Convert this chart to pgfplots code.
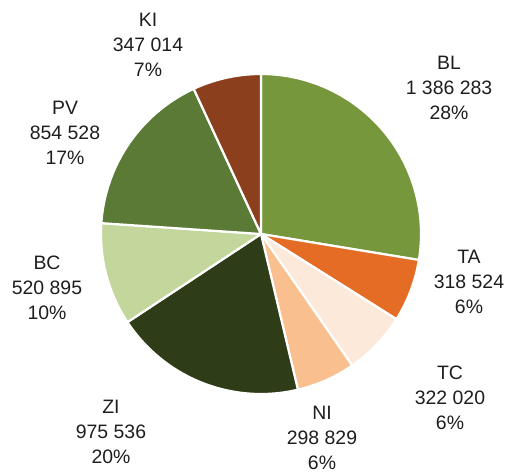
\documentclass[border=0pt]{standalone}
\usepackage{pgfplots}
\pgfplotsset{compat=1.18}
\usepackage{fontspec}
\setmainfont{Liberation Sans}
\definecolor{cBL}{HTML}{77973D}
\definecolor{cTA}{HTML}{E46C25}
\definecolor{cTC}{HTML}{FDE9D9}
\definecolor{cNI}{HTML}{F9BF8F}
\definecolor{cZI}{HTML}{2F3C18}
\definecolor{cBC}{HTML}{C3D69B}
\definecolor{cPV}{HTML}{5B7A36}
\definecolor{cKI}{HTML}{8C3F1C}
\definecolor{txt}{HTML}{1E1E1E}
% data
\def\vBL{1386283}\def\vTA{318524}\def\vTC{322020}\def\vNI{298829}
\def\vZI{975536}\def\vBC{520895}\def\vPV{854528}\def\vKI{347014}
\pgfkeys{/pgf/fpu=true,/pgf/fpu/output format=fixed}
\pgfmathsetmacro\T{\vBL+\vTA+\vTC+\vNI+\vZI+\vBC+\vPV+\vKI}
\pgfmathsetmacro\aA{90}
\pgfmathsetmacro\aB{\aA-360*\vBL/\T}
\pgfmathsetmacro\aC{\aB-360*\vTA/\T}
\pgfmathsetmacro\aD{\aC-360*\vTC/\T}
\pgfmathsetmacro\aE{\aD-360*\vNI/\T}
\pgfmathsetmacro\aF{\aE-360*\vZI/\T}
\pgfmathsetmacro\aG{\aF-360*\vBC/\T}
\pgfmathsetmacro\aH{\aG-360*\vPV/\T}
\pgfmathsetmacro\aI{\aH-360*\vKI/\T}
\pgfkeys{/pgf/fpu=false}
\def\cx{261}\def\cy{238}\def\R{160}
\newcommand\slice[3]{%
  \addplot[fill=#1, draw=white, line width=2.2pt, line join=round, domain=#3:#2, samples=80]
    ({\cx+\R*cos(x)},{\cy+\R*sin(x)}) -- (axis cs:\cx,\cy) -- cycle;}
\begin{document}
\begin{tikzpicture}
\begin{axis}[
  width=508bp, height=472bp, scale only axis,
  xmin=0, xmax=508, ymin=0, ymax=472,
  hide axis, clip=false,
]
\path (axis cs:0,0) rectangle (axis cs:508,472);
\slice{cBL}{\aA}{\aB}
\slice{cTA}{\aB}{\aC}
\slice{cTC}{\aC}{\aD}
\slice{cNI}{\aD}{\aE}
\slice{cZI}{\aE}{\aF}
\slice{cBC}{\aF}{\aG}
\slice{cPV}{\aG}{\aH}
\slice{cKI}{\aH}{\aI}
\begin{scope}[every node/.style={align=center, text=txt, font=\fontsize{19.5}{24.8}\selectfont}]
\node at (axis cs:449,384) {BL\\1 386 283\\28\%};
\node at (axis cs:469,190) {TA\\318 524\\6\%};
\node at (axis cs:450,74) {TC\\322 020\\6\%};
\node at (axis cs:322,34) {NI\\298 829\\6\%};
\node at (axis cs:111,40) {ZI\\975 536\\20\%};
\node at (axis cs:47,184) {BC\\520 895\\10\%};
\node at (axis cs:65,339) {PV\\854 528\\17\%};
\node at (axis cs:148,427) {KI\\347 014\\7\%};
\end{scope}
\end{axis}
\end{tikzpicture}
\end{document}
